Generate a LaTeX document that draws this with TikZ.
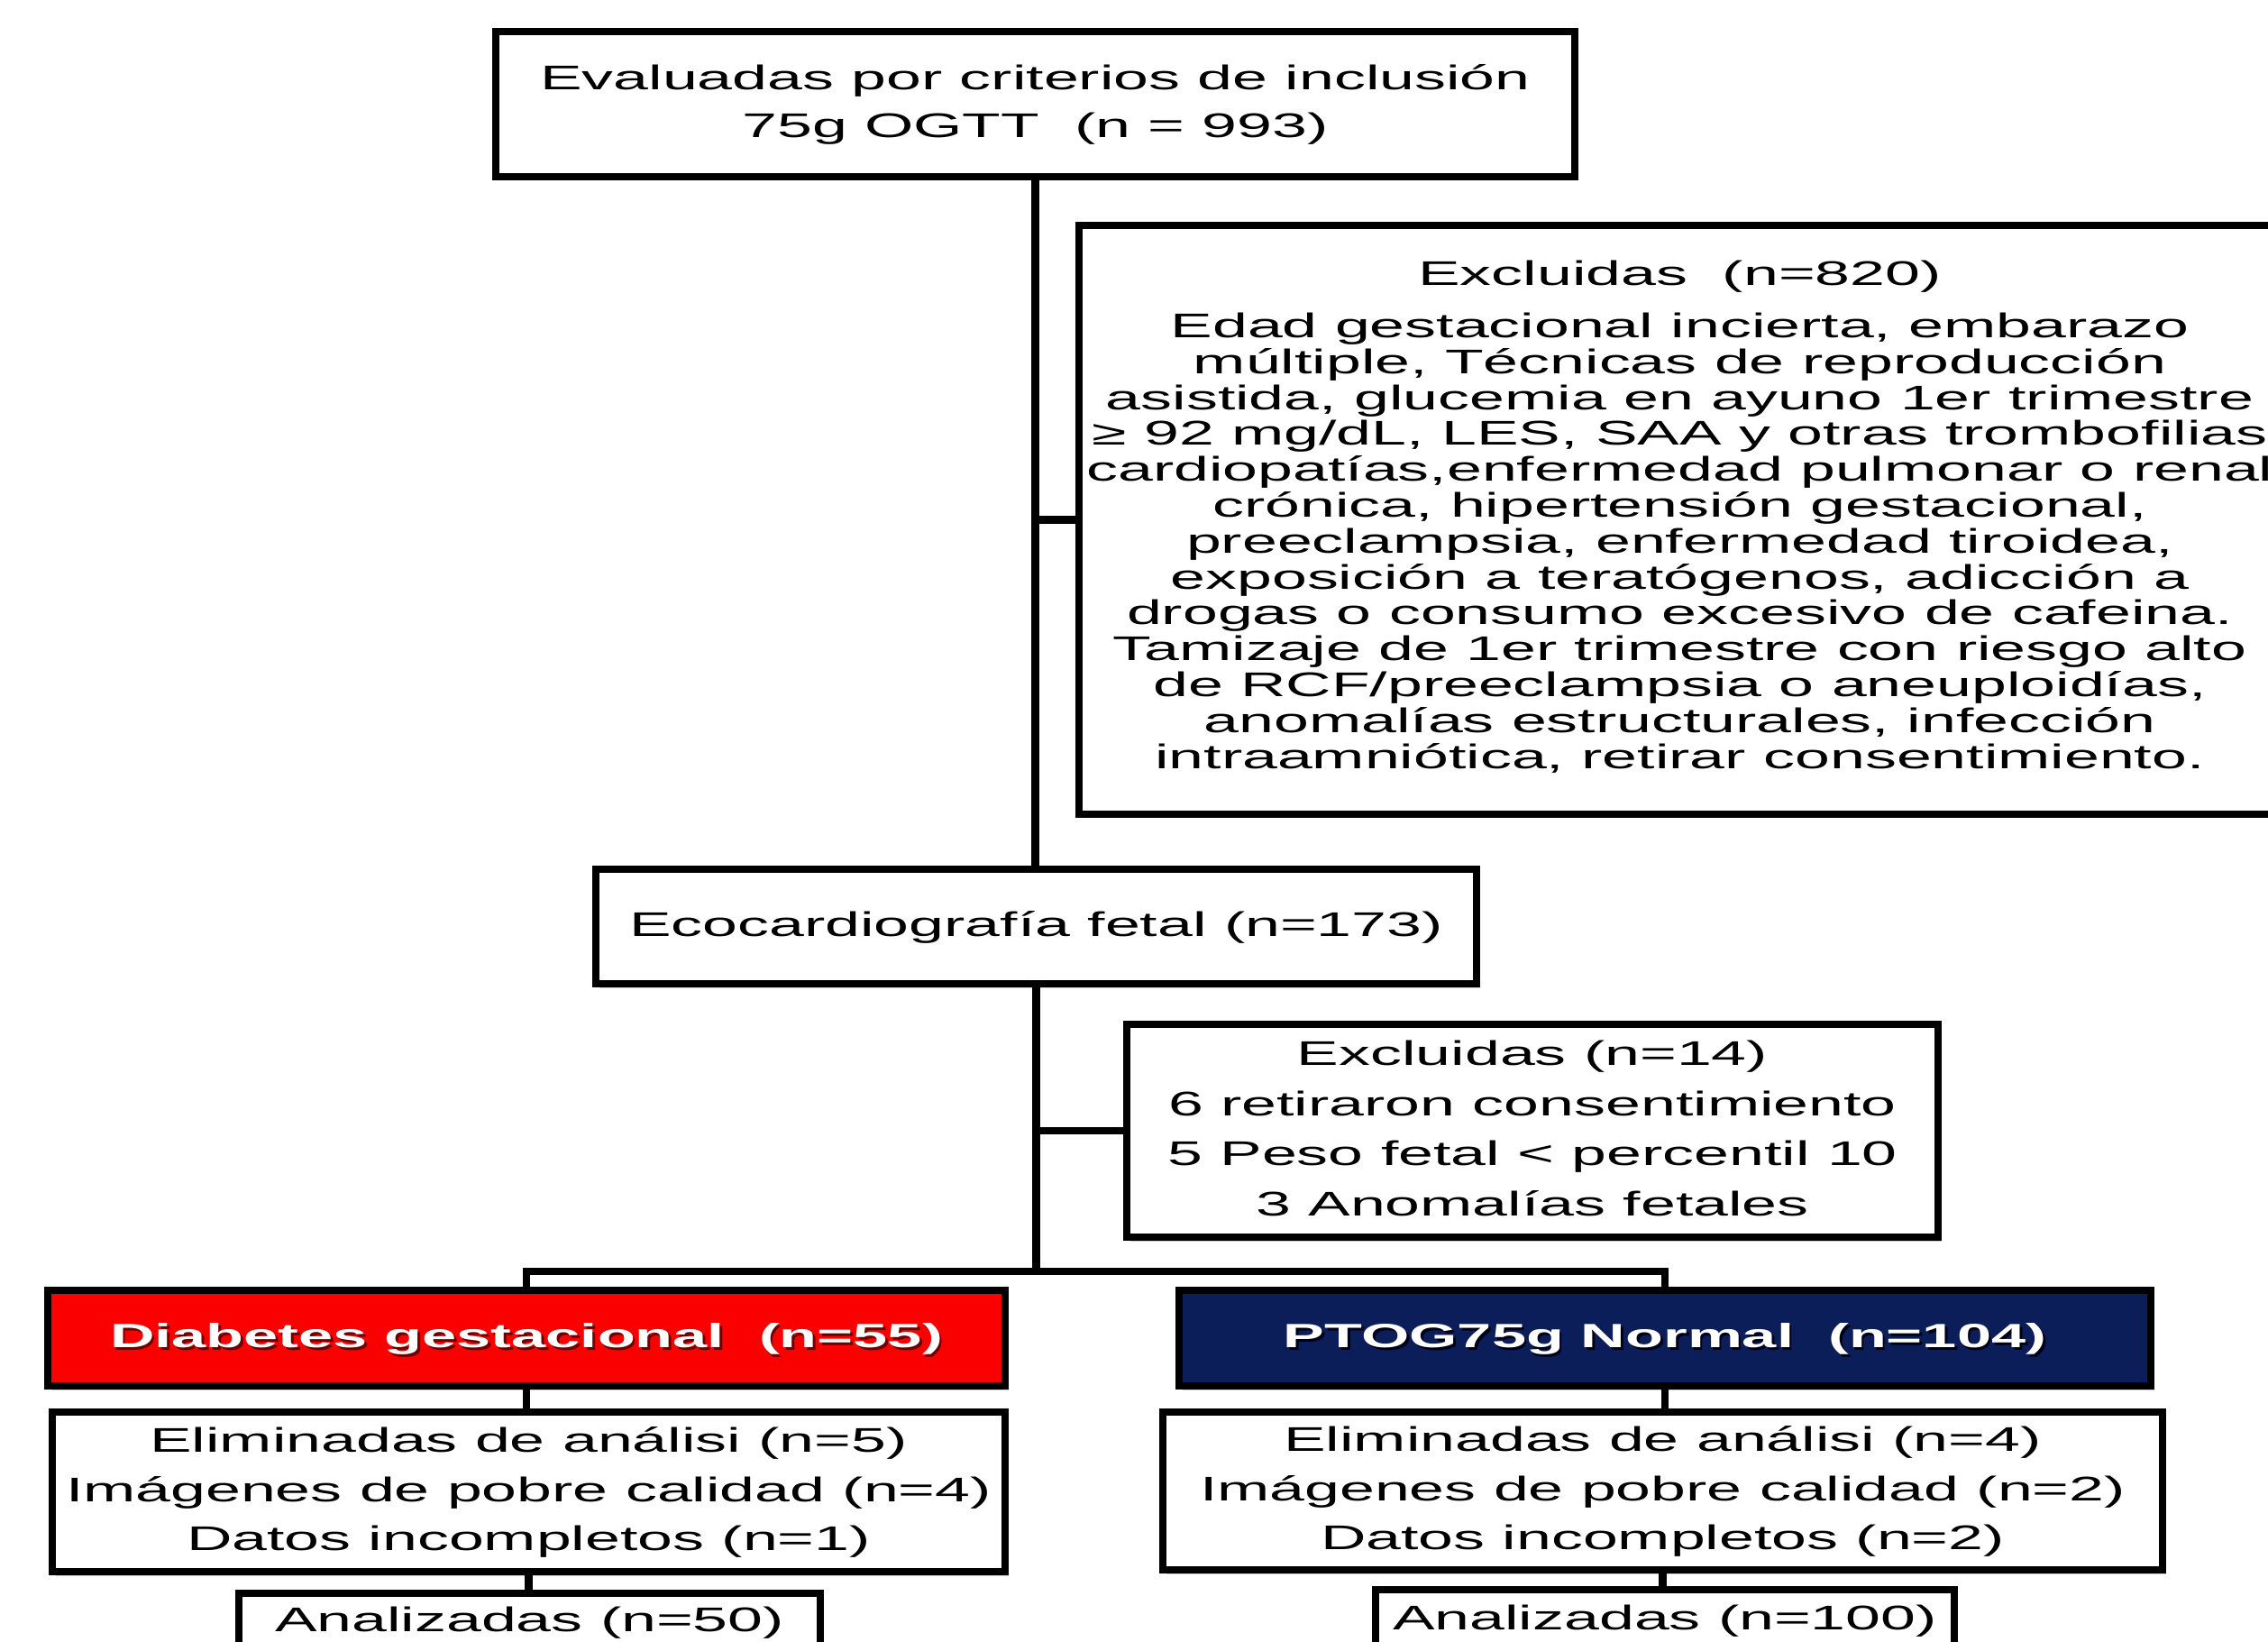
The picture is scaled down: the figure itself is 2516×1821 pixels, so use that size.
\documentclass[tikz,border=0pt]{standalone}
\usepackage{fontspec}
\setmainfont{Liberation Sans}[FakeStretch=1.84]
\usetikzlibrary{shadows}
\definecolor{dgred}{RGB}{250,0,0}
\definecolor{navyb}{RGB}{12,30,90}
\definecolor{redshadow}{RGB}{110,0,0}
\definecolor{navyshadow}{RGB}{0,0,20}
\newcommand{\ctext}[1]{\makebox[0pt]{\begin{tabular}{@{}c@{}}#1\end{tabular}}}
\newcommand{\shtext}[2]{\makebox[0pt][l]{\hspace{0.8pt}\raisebox{-0.8pt}{\color{#1}#2}}#2}
\begin{document}
\begin{tikzpicture}[x=0.1mm,y=-0.1mm,
  box/.style={draw=black, line width=2.2pt, fill=white, inner sep=0pt, rectangle,
    drop shadow={shadow xshift=0.35mm, shadow yshift=-0.45mm, fill=black!18, opacity=1}},
  conn/.style={draw=black, line width=2.5pt},
  body/.style={font=\fontsize{10.8}{#1}\selectfont},
  hdr/.style={font=\fontsize{10.6}{15.5}\selectfont\bfseries, text=white}]
\fill[white] (0,0) rectangle (2516,1821);
\clip (0,0) rectangle (2516,1821);

\node[box, body=15.1, minimum width=119.7mm, minimum height=16.1mm] (top) at (1148.5,115.5)
  {\ctext{Evaluadas por criterios de inclusión\\75g OGTT\ \ (n = 993)}};

\node[box, body=11.3, minimum width=133.3mm, minimum height=65.3mm] (ex1) at (1863.5,576.5)
  {\ctext{Excluidas\ \ (n=820)\\[5.2pt]
  Edad gestacional incierta, embarazo\\
  múltiple, Técnicas de reproducción\\
  asistida, glucemia en ayuno 1er trimestre\\
  ≥ 92 mg/dL, LES, SAA y otras trombofilias\\
  cardiopatías,enfermedad pulmonar o renal\\
  crónica, hipertensión gestacional,\\
  preeclampsia, enfermedad tiroidea,\\
  exposición a teratógenos, adicción a\\
  drogas o consumo excesivo de cafeina.\\
  Tamizaje de 1er trimestre con riesgo alto\\
  de RCF/preeclampsia o aneuploidías,\\
  anomalías estructurales, infección\\
  intraamniótica, retirar consentimiento.}};

\node[box, body=15.5, minimum width=97.7mm, minimum height=12.7mm] (eco) at (1149.5,1027.5)
  {\ctext{Ecocardiografía fetal (n=173)}};

\node[box, body=15.8, minimum width=90mm, minimum height=23.6mm] (ex2) at (1700,1254)
  {\ctext{Excluidas (n=14)\\6 retiraron consentimiento\\5 Peso fetal < percentil 10\\3 Anomalías fetales}};

\node[box, hdr, fill=dgred, minimum width=106.2mm, minimum height=10.6mm] (red) at (584,1484)
  {\ctext{\shtext{redshadow}{Diabetes gestacional\ \ (n=55)}}};

\node[box, hdr, fill=navyb, minimum width=107.8mm, minimum height=10.6mm] (navy) at (1847,1484)
  {\ctext{\shtext{navyshadow}{PTOG75g Normal\ \ (n=104)}}};

\node[box, body=15.5, minimum width=105.7mm, minimum height=17.7mm] (elimL) at (586.5,1654.5)
  {\ctext{Eliminadas de análisi (n=5)\\Imágenes de pobre calidad (n=4)\\Datos incompletos (n=1)}};

\node[box, body=15.5, minimum width=110.9mm, minimum height=17.5mm] (elimR) at (1844.5,1653.5)
  {\ctext{Eliminadas de análisi (n=4)\\Imágenes de pobre calidad (n=2)\\Datos incompletos (n=2)}};

\node[box, body=15.5, minimum width=64.5mm, minimum height=6.4mm] (anL) at (587.5,1799)
  {\ctext{Analizadas (n=50)}};

\node[box, body=15.5, minimum width=64.2mm, minimum height=6.8mm] (anR) at (1847,1797)
  {\ctext{Analizadas (n=100)}};

\coordinate (sy) at (0,1410);
\coordinate (split) at (eco.south |- sy);

\draw[conn] (top.south) -- (top.south |- eco.north);
\draw[conn] (top.south |- ex1.west) -- (ex1.west);
\draw[conn] (eco.south) -- (split);
\draw[conn] (eco.south |- ex2.west) -- (ex2.west);
\draw[conn] (red.north) |- (split) -| (navy.north);
\draw[conn] (red.south) -- (red.south |- elimL.north);
\draw[conn] (navy.south) -- (navy.south |- elimR.north);
\draw[conn] (elimL.south) -- (elimL.south |- anL.north);
\draw[conn] (elimR.south) -- (elimR.south |- anR.north);
\end{tikzpicture}
\end{document}
